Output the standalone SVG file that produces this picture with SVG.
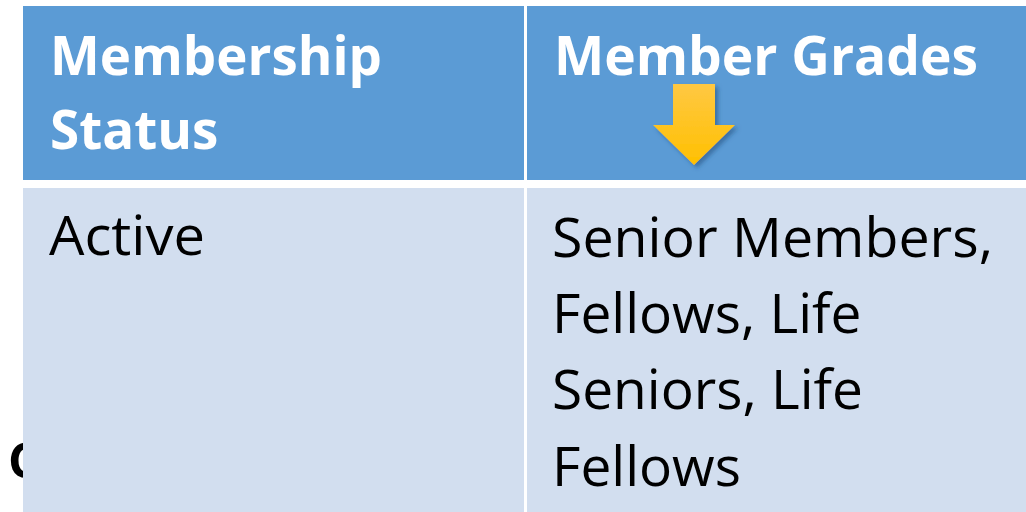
<svg xmlns="http://www.w3.org/2000/svg" width="1026" height="512" viewBox="0 0 1026 512">
<style>
.hdr{fill:#5B9BD5}
.body{fill:#D2DEEF}
.th{font-family:"Open Sans","Liberation Sans",sans-serif;font-weight:bold;font-size:53px;fill:#FFFFFF}
.td{font-family:"Open Sans","Liberation Sans",sans-serif;font-size:55px;fill:#000000}
</style>
<defs>
<linearGradient id="arrowGrad" x1="0" y1="0" x2="0" y2="1">
<stop offset="0" stop-color="#FFC843"/>
<stop offset="1" stop-color="#FFC000"/>
</linearGradient>
<filter id="shadow" x="-30%" y="-30%" width="160%" height="160%">
<feDropShadow dx="3" dy="3" stdDeviation="2" flood-color="#1F4E79" flood-opacity="0.55"/>
</filter>
</defs>
<rect x="0" y="0" width="1026" height="512" fill="#FFFFFF"/>
<text x="8" y="478" font-family="'Open Sans','Liberation Sans',sans-serif" font-weight="bold" font-size="49" fill="#000000">C</text>
<g id="cell-header-status">
<rect class="hdr" x="23" y="6" width="501" height="174"/>
<text class="th" x="50" y="75" textLength="332" lengthAdjust="spacingAndGlyphs">Membership</text>
<text class="th" x="50" y="149">Status</text>
</g>
<g id="cell-header-grades">
<rect class="hdr" x="527" y="6" width="510" height="174"/>
<text class="th" x="554" y="75" textLength="424" lengthAdjust="spacingAndGlyphs">Member Grades</text>
</g>
<g id="cell-active">
<rect class="body" x="23" y="188" width="501" height="330"/>
<text class="td" x="49" y="255" textLength="156" lengthAdjust="spacingAndGlyphs">Active</text>
</g>
<g id="cell-grades">
<rect class="body" x="527" y="188" width="510" height="330"/>
<text class="td" x="552" y="257" textLength="441" lengthAdjust="spacingAndGlyphs">Senior Members,</text>
<text class="td" x="552" y="333">Fellows, Life</text>
<text class="td" x="552" y="409">Seniors, Life</text>
<text class="td" x="552" y="486">Fellows</text>
</g>
<g id="arrow">
<path d="M673,84 L715,84 L715,125 L735,125 L694,165 L653,125 L673,125 Z" fill="url(#arrowGrad)" filter="url(#shadow)"/>
</g>
</svg>
